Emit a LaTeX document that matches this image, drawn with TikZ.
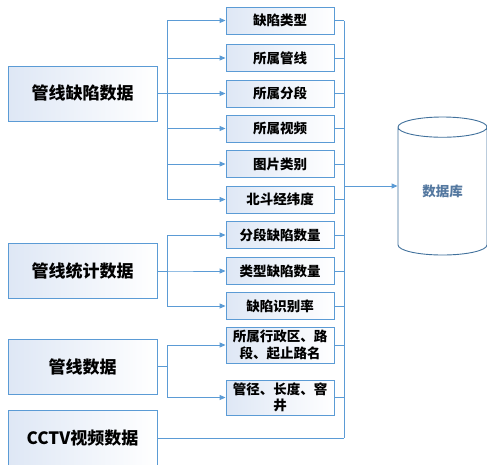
\documentclass[tikz,border=0pt]{standalone}
\usepackage{fontspec}
\newfontfamily\cjk{Noto Sans CJK SC}
\usetikzlibrary{arrows.meta,shapes.geometric}
\definecolor{lineblue}{RGB}{91,155,213}
\definecolor{fillblue}{RGB}{222,231,245}
\definecolor{dbblue}{RGB}{65,113,156}
\definecolor{dbtext}{RGB}{84,120,160}
\begin{document}
\begin{tikzpicture}[x=1pt,y=-1pt,
  bigbox/.style={draw=lineblue,line width=0.9pt,left color=fillblue,right color=white,
    minimum width=149pt,minimum height=55pt,inner sep=0pt,
    font=\cjk\bfseries\fontsize{17}{20}\selectfont},
  itembox/.style={draw=lineblue,line width=0.9pt,left color=fillblue,right color=white,
    minimum width=108pt,minimum height=27pt,inner sep=0pt,align=center,
    font=\cjk\bfseries\fontsize{13.5}{16.5}\selectfont},
  dbshape/.style={cylinder,shape border rotate=90,draw=dbblue,line width=0.9pt,fill=white,
    aspect=0.5,minimum width=89pt,minimum height=138pt,inner sep=0pt,anchor=shape center,
    text=dbtext,font=\cjk\bfseries\fontsize{13.5}{16}\selectfont},
  link/.style={draw=lineblue,line width=0.9pt},
  arr/.style={link,-{Triangle[length=6pt,width=5pt]}}]
\useasboundingbox (0,0) rectangle (487,464);
\draw (82.5,93.5) node[bigbox] (defect) {管线缺陷数据};
\draw (82.5,271) node[bigbox] (stat) {管线统计数据};
\draw (82.5,366.5) node[bigbox] (pipe) {管线数据};
\draw (82.5,438) node[bigbox] (cctv) {CCTV视频数据};

\draw (280,20.5) node[itembox] (type) {缺陷类型};
\draw (280,58) node[itembox] (line) {所属管线};
\draw (280,93.5) node[itembox] (seg) {所属分段};
\draw (280,128.5) node[itembox] (video) {所属视频};
\draw (280,164) node[itembox] (pic) {图片类别};
\draw (280,199.5) node[itembox] (gps) {北斗经纬度};
\draw (280,235) node[itembox] (segcnt) {分段缺陷数量};
\draw (280,271) node[itembox] (typecnt) {类型缺陷数量};
\draw (280,306) node[itembox] (rate) {缺陷识别率};
\draw (280,345) node[itembox,minimum height=36pt] (admin) {所属行政区、路\\段、起止路名};
\draw (280,397.5) node[itembox,minimum height=35pt] (size) {管径、长度、窨\\井};

\draw (442.5,186) node[dbshape] (db) {数据库};
\coordinate (bus) at (344,0);

\draw[arr] (defect.east) -- ++(10,0) |- (type.west);
\draw[arr] (defect.east) -- ++(10,0) |- (line.west);
\draw[arr] (defect.east) -- ++(10,0) |- (seg.west);
\draw[arr] (defect.east) -- ++(10,0) |- (video.west);
\draw[arr] (defect.east) -- ++(10,0) |- (pic.west);
\draw[arr] (defect.east) -- ++(10,0) |- (gps.west);
\draw[arr] (stat.east) -- ++(10,0) |- (segcnt.west);
\draw[arr] (stat.east) -- ++(10,0) |- (typecnt.west);
\draw[arr] (stat.east) -- ++(10,0) |- (rate.west);
\draw[arr] (pipe.east) -- ++(10,0) |- (admin.west);
\draw[arr] (pipe.east) -- ++(10,0) |- (size.west);

\draw[link] (type.east) -- (type.east -| bus);
\draw[link] (line.east) -- (line.east -| bus);
\draw[link] (seg.east) -- (seg.east -| bus);
\draw[link] (video.east) -- (video.east -| bus);
\draw[link] (pic.east) -- (pic.east -| bus);
\draw[link] (gps.east) -- (gps.east -| bus);
\draw[link] (segcnt.east) -- (segcnt.east -| bus);
\draw[link] (typecnt.east) -- (typecnt.east -| bus);
\draw[link] (rate.east) -- (rate.east -| bus);
\draw[link] (admin.east) -- (admin.east -| bus);
\draw[link] (size.east) -- (size.east -| bus);
\draw[link] (cctv.east) -- (cctv.east -| bus);
\draw[link] (type.east -| bus) -- (cctv.east -| bus);
\draw[arr] (bus |- 0,186) -- (db.west |- 0,186);
\end{tikzpicture}
\end{document}
